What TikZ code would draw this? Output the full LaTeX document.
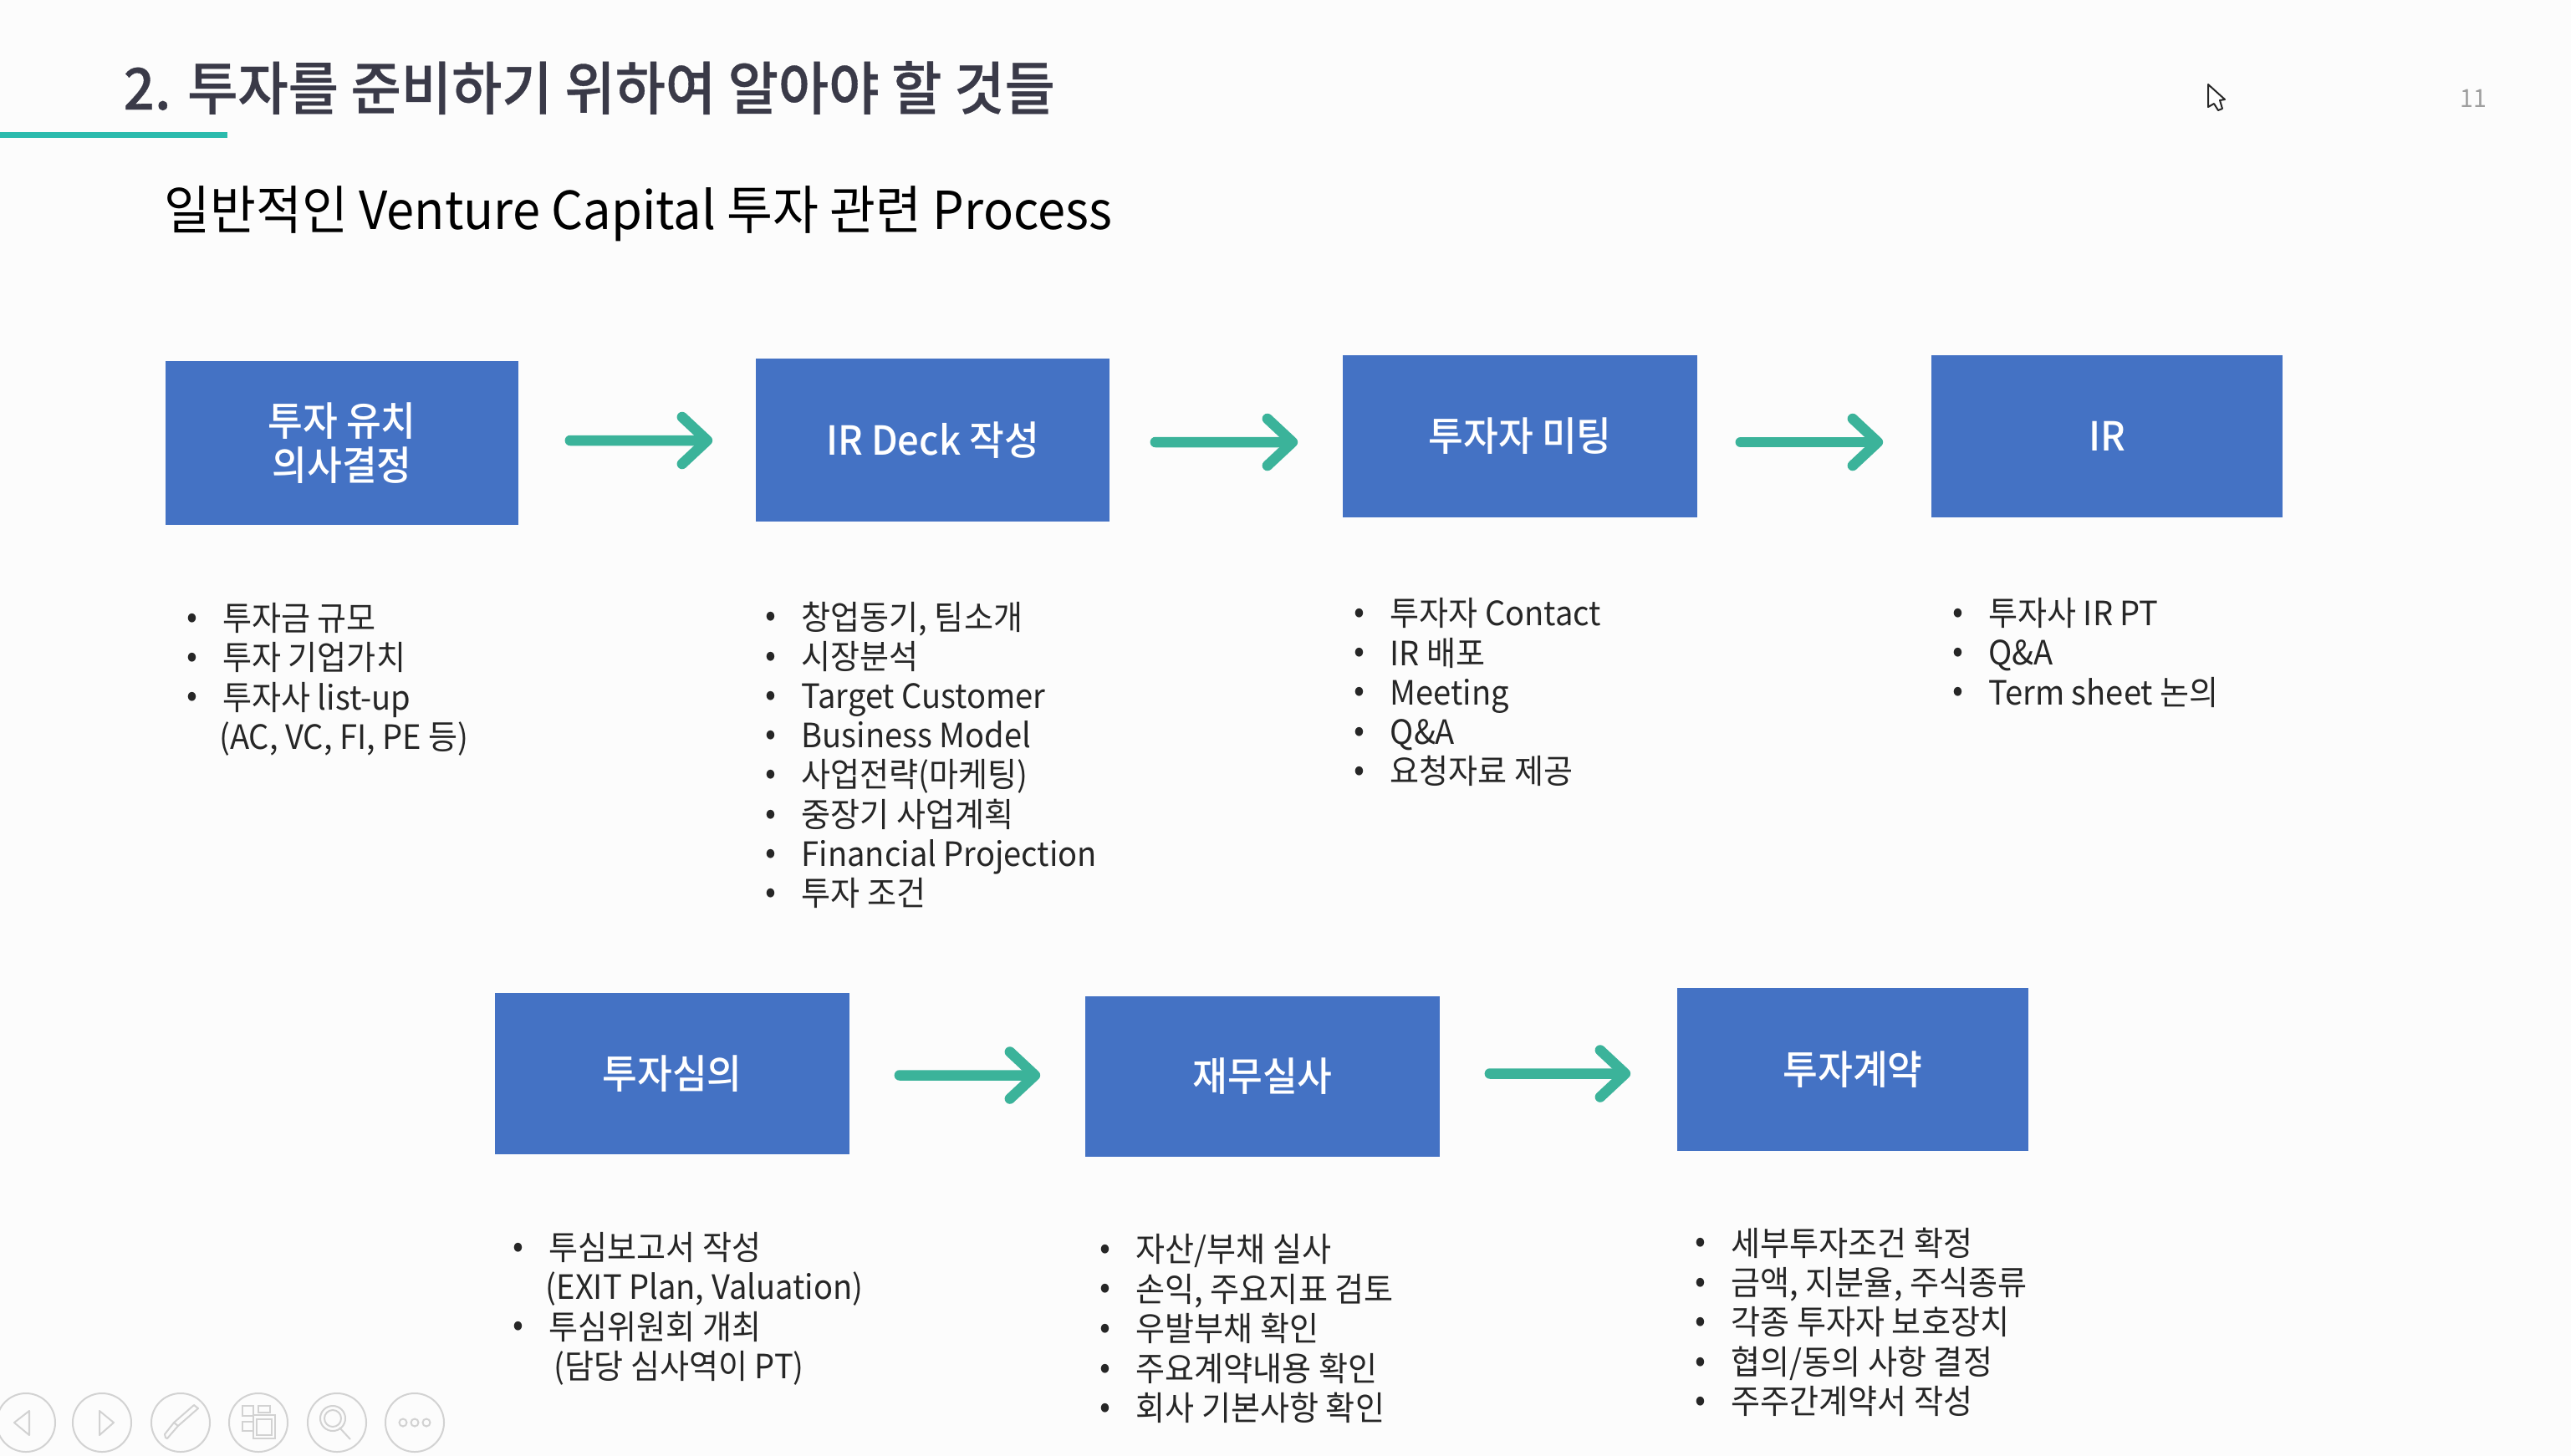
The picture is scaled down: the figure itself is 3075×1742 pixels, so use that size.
\documentclass[tikz,border=0pt]{standalone}
\usepackage{fontspec}
\usepackage{array}
\setmainfont[FakeStretch=0.95]{Noto Sans CJK KR}
\newfontfamily\medfont[FakeStretch=0.95]{Noto Sans CJK KR Medium}
\newfontfamily\headfont[FakeStretch=0.95,FakeBold=0.5]{Noto Sans CJK KR Medium}
\usetikzlibrary{arrows.meta}
\definecolor{boxblue}{HTML}{4472C4}
\definecolor{arrowgreen}{HTML}{3BB39A}
\definecolor{rulegreen}{HTML}{2BBBAD}
\definecolor{titlegrey}{HTML}{3A3A48}
\definecolor{bodytext}{HTML}{262626}
\definecolor{icongrey}{HTML}{D2D2D2}
\newcommand{\steplist}[1]{{\fontsize{11.4}{13.39}\selectfont\begin{tabular}{@{}p{4.3mm}@{}l@{}}#1\end{tabular}}}
\newcommand{\bul}{\raisebox{0.15ex}{\textbullet}}
\tikzset{
  stepbox/.style={fill=boxblue,draw=none,inner sep=0pt,text=white,align=center,font=\medfont\fontsize{13.6}{15}\selectfont},
  listnode/.style={anchor=north west,inner sep=0pt,text=bodytext},
  flow/.style={draw=arrowgreen,line width=1.25mm,line cap=round,-{Straight Barb[length=3mm,width=5.6mm,round,line width=1.25mm]}},
  icon/.style={draw=icongrey,line width=0.2mm,fill=none},
}
\begin{document}
\begin{tikzpicture}[x=0.01cm,y=-0.01cm]
\useasboundingbox (0,0) rectangle (3075,1742);
\fill[white!99!black] (0,0) rectangle (3075,1742);
% header
\node[anchor=west,inner sep=0pt,text=titlegrey,font=\headfont\fontsize{19.6}{22}\selectfont] (title) at (147,105) {2. 투자를 준비하기 위하여 알아야 할 것들};
\fill[rulegreen] (0,158) rectangle (272,165);
\node[anchor=west,inner sep=0pt,text=black,font=\fontsize{17.85}{20}\selectfont] (sub) at (196,256) {일반적인 Venture Capital 투자 관련 Process};
\node[inner sep=0pt,text=black!38,font=\fontsize{8.5}{10}\selectfont] (pageno) at (2958,118) {11};
% cursor
\draw[black!85,line width=0.2mm,line join=round,fill=white] (2641,101) -- (2641,128) -- (2648,124) -- (2653,132) -- (2658,130) -- (2655,120) -- (2661,119) -- cycle;
% boxes
\node[stepbox,minimum width=4.22cm,minimum height=1.95cm] (b1) at (409,530) {투자 유치\\의사결정};
\node[stepbox,minimum width=4.23cm,minimum height=1.94cm] (b2) at (1115.5,526.5) {IR Deck 작성};
\node[stepbox,minimum width=4.24cm,minimum height=1.93cm] (b3) at (1818,522) {투자자 미팅};
\node[stepbox,minimum width=4.20cm,minimum height=1.93cm] (b4) at (2520,522) {IR};
\node[stepbox,minimum width=4.24cm,minimum height=1.92cm] (b5) at (804,1284.5) {투자심의};
\node[stepbox,minimum width=4.24cm,minimum height=1.92cm] (b6) at (1510,1288) {재무실사};
\node[stepbox,minimum width=4.20cm,minimum height=1.94cm] (b7) at (2216,1279.5) {투자계약};
% arrows
\draw[flow,shorten <=6.1mm,shorten >=5.1mm] ([yshift=.3mm]b1.east) -- ([yshift=-.05mm]b2.west);
\draw[flow,shorten <=5.4mm,shorten >=5.3mm] ([yshift=-.25mm]b2.east) -- ([yshift=-.7mm]b3.west);
\draw[flow,shorten <=5.1mm,shorten >=5.7mm] ([yshift=-.7mm]b3.east) -- ([yshift=-.7mm]b4.west);
\draw[flow,shorten <=5.9mm,shorten >=5.3mm] ([yshift=-.2mm]b5.east) -- ([yshift=.15mm]b6.west);
\draw[flow,shorten <=5.9mm,shorten >=5.5mm] ([yshift=.35mm]b6.east) -- ([yshift=-.5mm]b7.west);
% lists
\node[listnode] (l1) at (222.6,720.7) {\steplist{
\bul & 투자금 규모\\
\bul & 투자 기업가치\\
\bul & 투자사 list-up\\
 & \hspace*{-0.4mm}(AC, VC, FI, PE 등)}};
\node[listnode] (l2) at (915,719) {\steplist{
\bul & 창업동기, 팀소개\\
\bul & 시장분석\\
\bul & Target Customer\\
\bul & Business Model\\
\bul & 사업전략(마케팅)\\
\bul & 중장기 사업계획\\
\bul & Financial Projection\\
\bul & 투자 조건}};
\node[listnode] (l3) at (1619,715) {\steplist{
\bul & 투자자 Contact\\
\bul & IR 배포\\
\bul & Meeting\\
\bul & Q\&A\\
\bul & 요청자료 제공}};
\node[listnode] (l4) at (2334.6,715) {\steplist{
\bul & 투자사 IR PT\\
\bul & Q\&A\\
\bul & Term sheet 논의}};
\node[listnode] (l5) at (613,1474) {\steplist{
\bul & 투심보고서 작성\\
 & \hspace*{-0.4mm}(EXIT Plan, Valuation)\\
\bul & 투심위원회 개최\\
 & \hspace*{0.6mm}(담당 심사역이 PT)}};
\node[listnode] (l6) at (1315,1476) {\steplist{
\bul & 자산/부채 실사\\
\bul & 손익, 주요지표 검토\\
\bul & 우발부채 확인\\
\bul & 주요계약내용 확인\\
\bul & 회사 기본사항 확인}};
\node[listnode] (l7) at (2027,1468) {\steplist{
\bul & 세부투자조건 확정\\
\bul & 금액, 지분율, 주식종류\\
\bul & 각종 투자자 보호장치\\
\bul & 협의/동의 사항 결정\\
\bul & 주주간계약서 작성}};
% slide-show toolbar
\foreach \cx in {31,122,216,309,403,496} \draw[icon] (\cx,1702) circle (3.5mm);
\draw[icon,line join=round] (35,1688) -- (35,1717) -- (17,1702) -- cycle;
\draw[icon,line join=round] (119,1688) -- (119,1717) -- (136,1702) -- cycle;
\draw[icon,line join=round] (198,1720) -- (197,1716) -- (208,1702) -- (213,1706) -- (200,1721) -- cycle (208,1702) -- (232,1681) -- (237,1685) -- (213,1706);
\draw[icon] (290,1682) rectangle (303,1694) (309,1682) rectangle (323,1690) (290,1701) rectangle (303,1712) (303,1693) rectangle (329,1721) (307,1698) rectangle (325,1717);
\draw[icon] (398,1697) circle (1.5mm) (398,1697) circle (1mm);
\draw[icon,line join=round] (406,1708) -- (419,1722);
\foreach \cx in {482,496,510} \draw[icon] (\cx,1702) circle (0.45mm);
\end{tikzpicture}
\end{document}
